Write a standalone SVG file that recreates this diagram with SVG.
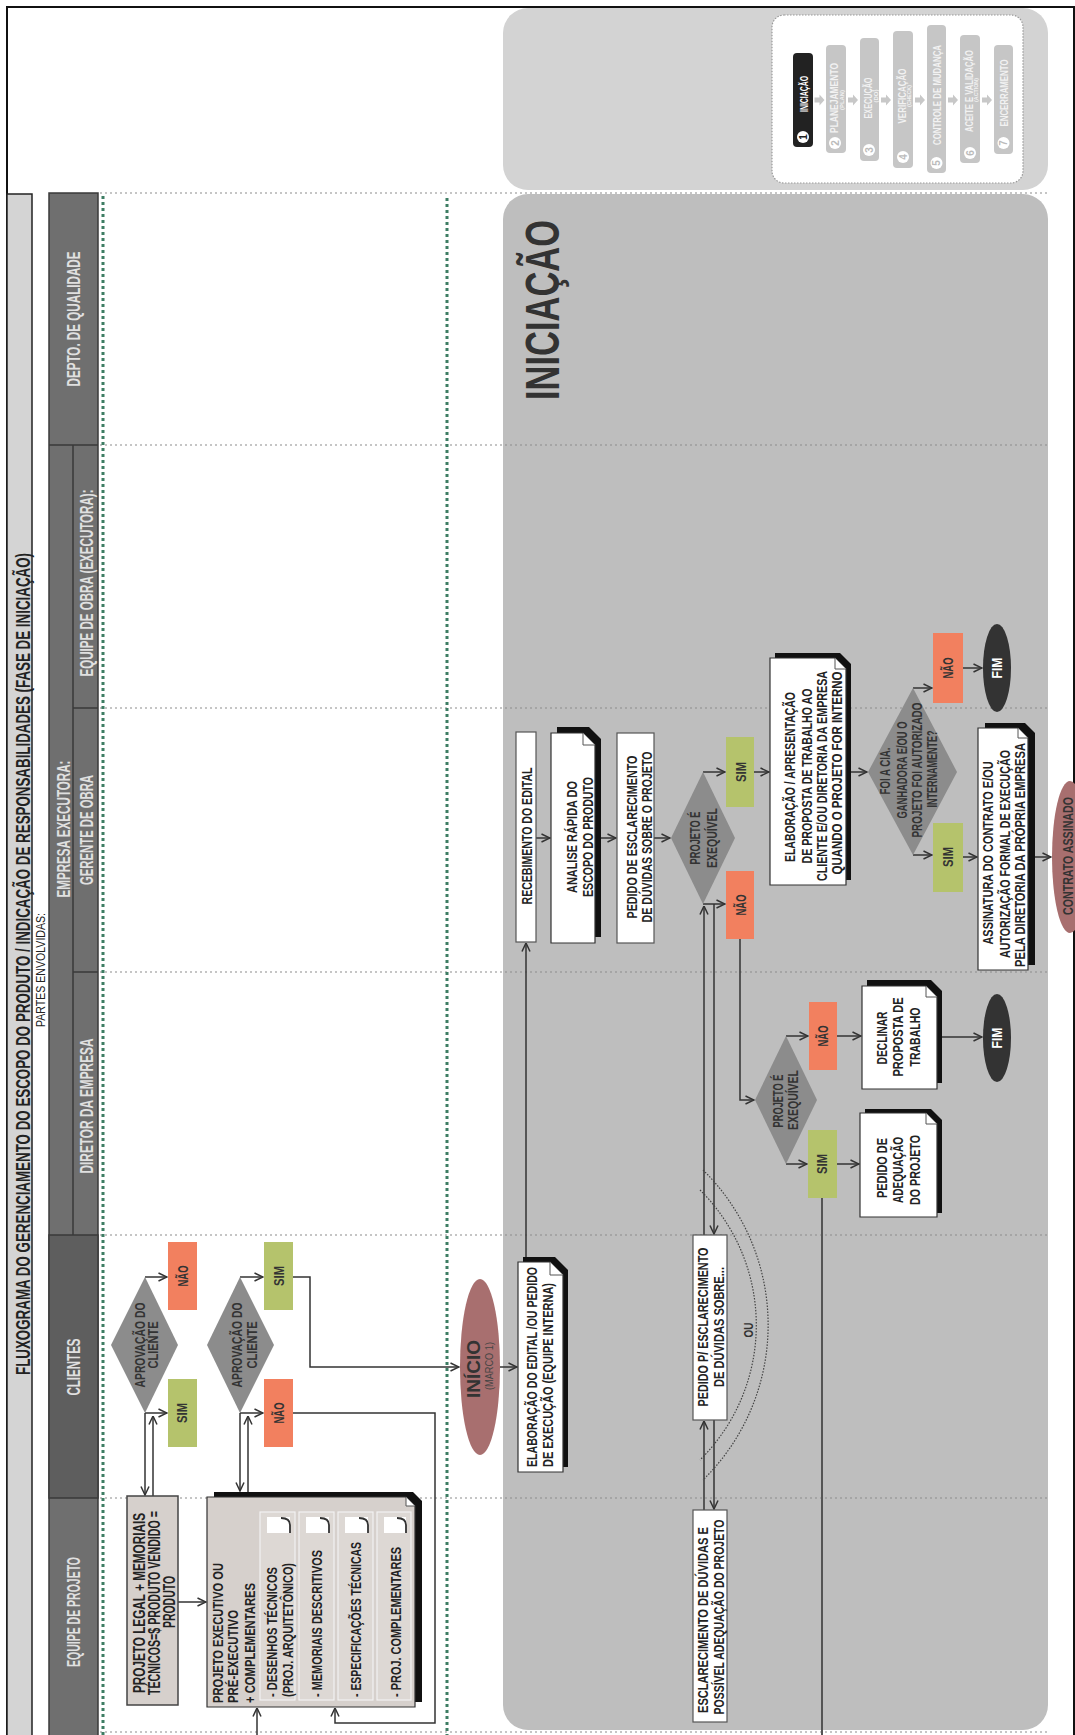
<svg xmlns="http://www.w3.org/2000/svg" width="1075" height="1735" viewBox="0 0 1075 1735">
<defs>
<style>
.f{font-family:"Liberation Sans Narrow","Liberation Sans",Arial,sans-serif;font-weight:bold;text-anchor:middle;fill:#222}
.st{text-anchor:start}
.hd{fill:#e0e0e0;font-size:18px}
.s13{font-size:14px}
.s14{font-size:15px}
.s15{font-size:16px}
.dk{fill:#333}
.lane{stroke:#8c8c8c;stroke-width:1.2;stroke-dasharray:2 3;fill:none}
.grn{stroke:#3d7d63;stroke-width:3;stroke-dasharray:3 3;fill:none}
.box{fill:#fff;stroke:#555;stroke-width:1.2}
.doc{fill:#fff;stroke:#333;stroke-width:1.2}
.sh{fill:#111}
.fold{fill:#fff;stroke:#555;stroke-width:1}
.dia{fill:#8c8c8c}
.sim{fill:#b5c36c}
.nao{fill:#f2805f}
.ell{fill:#a86f6f}
.fim{fill:#333}
.c{fill:none;stroke:#333;stroke-width:1.5}
.pill{fill:#c6c6c6}
.pt{fill:#f2f2f2;font-size:10px}
.sub{fill:#ddd8d4;stroke:#f2f2f2;stroke-width:1.2}
.ico{fill:#fff}
.icl{fill:none;stroke:#333;stroke-width:1.8}
.arc{fill:none;stroke:#444;stroke-width:1.2;stroke-dasharray:1.5 1.5}
</style>
<marker id="ah" viewBox="0 0 10 10" refX="9.5" refY="5" markerWidth="10" markerHeight="10" markerUnits="userSpaceOnUse" orient="auto"><path d="M1,1 L9.5,5 L1,9" fill="none" stroke="#333" stroke-width="1.5"/></marker>
</defs>

<rect x="0" y="0" width="1075" height="1735" fill="#fff"/>

<g id="regions">
<rect x="503" y="8" width="545" height="182" rx="25" fill="#d3d3d3"/>
<rect x="503" y="194" width="545" height="1536" rx="25" fill="#bebebe"/>
</g>

<g id="legend">
<rect x="772" y="15" width="251" height="168" rx="12" fill="#fff" stroke="#999" stroke-width="1.2" stroke-dasharray="1.5 1.5"/>
<rect x="793" y="53" width="20" height="94" rx="4" fill="#222"/>
<circle cx="803" cy="137" r="6" fill="#fff"/>
<text class="f" style="font-size:10px" transform="translate(806.5,137) rotate(-90)">1</text>
<text class="f" style="font-size:11px;fill:#fff" transform="translate(807.5,94) rotate(-90)" textLength="36" lengthAdjust="spacingAndGlyphs">INICIAÇÃO</text>

<rect class="pill" x="826" y="45" width="20" height="108" rx="4"/>
<circle cx="835" cy="143" r="6" fill="#fff"/>
<text class="f" style="font-size:10px;fill:#bbb" transform="translate(838.5,143) rotate(-90)">2</text>
<text class="f pt" transform="translate(838,98) rotate(-90)" textLength="70" lengthAdjust="spacingAndGlyphs">PLANEJAMENTO</text>
<text class="f pt" style="font-size:6px" transform="translate(844,100) rotate(-90)" textLength="20" lengthAdjust="spacingAndGlyphs">(PLAN)</text>

<rect class="pill" x="860" y="38" width="19" height="123" rx="4"/>
<circle cx="869" cy="150" r="6" fill="#fff"/>
<text class="f" style="font-size:10px;fill:#bbb" transform="translate(872.5,150) rotate(-90)">3</text>
<text class="f pt" transform="translate(872,98) rotate(-90)" textLength="41" lengthAdjust="spacingAndGlyphs">EXECUÇÃO</text>
<text class="f pt" style="font-size:6px" transform="translate(877.5,96) rotate(-90)" textLength="13" lengthAdjust="spacingAndGlyphs">(DO)</text>

<rect class="pill" x="893" y="31" width="20" height="137" rx="4"/>
<circle cx="903" cy="157" r="6" fill="#fff"/>
<text class="f" style="font-size:10px;fill:#bbb" transform="translate(906.5,157) rotate(-90)">4</text>
<text class="f pt" transform="translate(906,96) rotate(-90)" textLength="55" lengthAdjust="spacingAndGlyphs">VERIFICAÇÃO</text>
<text class="f pt" style="font-size:6px" transform="translate(911,96) rotate(-90)" textLength="22" lengthAdjust="spacingAndGlyphs">(CHECK)</text>

<rect class="pill" x="927" y="25" width="19" height="148" rx="4"/>
<circle cx="936.5" cy="163" r="6" fill="#fff"/>
<text class="f" style="font-size:10px;fill:#bbb" transform="translate(940,163) rotate(-90)">5</text>
<text class="f pt" transform="translate(941,95) rotate(-90)" textLength="100" lengthAdjust="spacingAndGlyphs">CONTROLE DE MUDANÇA</text>

<rect class="pill" x="960" y="35" width="20" height="128" rx="4"/>
<circle cx="970" cy="153" r="6" fill="#fff"/>
<text class="f" style="font-size:10px;fill:#bbb" transform="translate(973.5,153) rotate(-90)">6</text>
<text class="f pt" transform="translate(973,91) rotate(-90)" textLength="82" lengthAdjust="spacingAndGlyphs">ACEITE E VALIDAÇÃO</text>
<text class="f pt" style="font-size:6px" transform="translate(978,90) rotate(-90)" textLength="24" lengthAdjust="spacingAndGlyphs">(ACTION)</text>

<rect class="pill" x="994" y="45" width="19" height="109" rx="4"/>
<circle cx="1003.5" cy="143" r="6" fill="#fff"/>
<text class="f" style="font-size:10px;fill:#bbb" transform="translate(1007,143) rotate(-90)">7</text>
<text class="f pt" transform="translate(1008,93) rotate(-90)" textLength="67" lengthAdjust="spacingAndGlyphs">ENCERRAMENTO</text>

<g fill="#c8c8c8">
<polygon points="814.5,97.5 819.5,97.5 819.5,94.5 824.5,100 819.5,105.5 819.5,102.5 814.5,102.5"/>
<polygon points="848,97.5 853,97.5 853,94.5 858,100 853,105.5 853,102.5 848,102.5"/>
<polygon points="881,97.5 886,97.5 886,94.5 891,100 886,105.5 886,102.5 881,102.5"/>
<polygon points="915,97.5 920,97.5 920,94.5 925,100 920,105.5 920,102.5 915,102.5"/>
<polygon points="948,97.5 953,97.5 953,94.5 958,100 953,105.5 953,102.5 948,102.5"/>
<polygon points="982,97.5 987,97.5 987,94.5 992,100 987,105.5 987,102.5 982,102.5"/>
</g>
</g>

<g id="lanes">
<path class="lane" d="M100,193 H1050 M100,445 H1050 M100,708 H1050 M100,972 H1050 M100,1235 H1050 M100,1498 H1050 M100,1732 H1050"/>
<path class="grn" d="M103,196 V1735 M447,198 V1735"/>
</g>

<g id="frame">
<rect x="7" y="7" width="1067" height="1740" fill="none" stroke="#111" stroke-width="2"/>
<rect x="7" y="194" width="25" height="1550" fill="#d4d4d4" stroke="#222" stroke-width="1.5"/>
<text class="f" style="font-size:21px" transform="translate(30,964) rotate(-90)" textLength="822" lengthAdjust="spacingAndGlyphs">FLUXOGRAMA DO GERENCIAMENTO DO ESCOPO DO PRODUTO / INDICAÇÃO DE RESPONSABILIDADES (FASE DE INICIAÇÃO)</text>
<text class="f" style="font-size:13px;font-weight:normal" transform="translate(45,970) rotate(-90)" textLength="114" lengthAdjust="spacingAndGlyphs">PARTES ENVOLVIDAS:</text>
</g>

<g id="header">
<rect x="49" y="193" width="49" height="1550" fill="#6f6f6f" stroke="#3a3a3a" stroke-width="1.5"/>
<rect x="49" y="1235" width="49" height="263" fill="#5e5e5e" stroke="#3a3a3a" stroke-width="1.5"/>
<path d="M49,445 H98 M73,445 V1235 M73,708 H98 M73,972 H98" fill="none" stroke="#3a3a3a" stroke-width="1.5"/>
<text class="f hd" transform="translate(80,319) rotate(-90)" textLength="135" lengthAdjust="spacingAndGlyphs">DEPTO. DE QUALIDADE</text>
<text class="f hd" transform="translate(70,829) rotate(-90)" textLength="137" lengthAdjust="spacingAndGlyphs">EMPRESA EXECUTORA:</text>
<text class="f hd" transform="translate(93,583) rotate(-90)" textLength="187" lengthAdjust="spacingAndGlyphs">EQUIPE DE OBRA (EXECUTORA):</text>
<text class="f hd" transform="translate(93,830) rotate(-90)" textLength="110" lengthAdjust="spacingAndGlyphs">GERENTE DE OBRA</text>
<text class="f hd" transform="translate(93,1106) rotate(-90)" textLength="135" lengthAdjust="spacingAndGlyphs">DIRETOR DA EMPRESA</text>
<text class="f hd" transform="translate(80,1367) rotate(-90)" textLength="57" lengthAdjust="spacingAndGlyphs">CLIENTES</text>
<text class="f hd" transform="translate(80,1612) rotate(-90)" textLength="110" lengthAdjust="spacingAndGlyphs">EQUIPE DE PROJETO</text>
</g>

<text class="f dk" style="font-size:48px" transform="translate(559,310) rotate(-90)" textLength="180" lengthAdjust="spacingAndGlyphs">INICIAÇÃO</text>

<g id="connectors">
<path class="c" d="M178,1602 H206" marker-end="url(#ah)"/>
<path class="c" d="M145,1277 H167" marker-end="url(#ah)"/>
<path class="c" d="M145,1413 H167" marker-end="url(#ah)"/>
<path class="c" d="M145,1413 V1495" marker-end="url(#ah)"/>
<path class="c" d="M153,1496 V1416" marker-end="url(#ah)"/>
<path class="c" d="M240,1277 H263" marker-end="url(#ah)"/>
<path class="c" d="M240,1413 H263" marker-end="url(#ah)"/>
<path class="c" d="M240,1413 V1491" marker-end="url(#ah)"/>
<path class="c" d="M248,1492 V1416" marker-end="url(#ah)"/>
<path class="c" d="M293,1277 H310 V1367 H459" marker-end="url(#ah)"/>
<path class="c" d="M293,1413 H435 V1723 H335 V1708" marker-end="url(#ah)"/>
<path class="c" d="M257,1740 V1708" marker-end="url(#ah)"/>
<path class="c" d="M500,1367 H517" marker-end="url(#ah)"/>
<path class="c" d="M526,1257 V943" marker-end="url(#ah)"/>
<path class="c" d="M536,838 H550" marker-end="url(#ah)"/>
<path class="c" d="M601,838 H616" marker-end="url(#ah)"/>
<path class="c" d="M654,838 H670" marker-end="url(#ah)"/>
<path class="c" d="M703,772 H725" marker-end="url(#ah)"/>
<path class="c" d="M754,772 H769" marker-end="url(#ah)"/>
<path class="c" d="M851,772 H867" marker-end="url(#ah)"/>
<path class="c" d="M703,904 H725" marker-end="url(#ah)"/>
<path class="c" d="M740,939 V1100 H754" marker-end="url(#ah)"/>
<path class="c" d="M786,1036 H808" marker-end="url(#ah)"/>
<path class="c" d="M837,1036 H861" marker-end="url(#ah)"/>
<path class="c" d="M942,1037 H982" marker-end="url(#ah)"/>
<path class="c" d="M786,1164 H807" marker-end="url(#ah)"/>
<path class="c" d="M837,1164 H859" marker-end="url(#ah)"/>
<path d="M822,1198 V1740" fill="none" stroke="#555" stroke-width="2"/>
<path class="c" d="M913,688 H932" marker-end="url(#ah)"/>
<path class="c" d="M963,668 H982" marker-end="url(#ah)"/>
<path class="c" d="M913,855 H932" marker-end="url(#ah)"/>
<path class="c" d="M963,857 H977" marker-end="url(#ah)"/>
<path class="c" d="M1035,857 H1051" marker-end="url(#ah)"/>
<path class="c" d="M704,1235 V906" marker-end="url(#ah)"/>
<path class="c" d="M714,904 V1234" marker-end="url(#ah)"/>
<path class="c" d="M704,1510 V1421" marker-end="url(#ah)"/>
<path class="c" d="M714,1420 V1509" marker-end="url(#ah)"/>
<path class="arc" d="M703,1170 A217,217 0 0 1 703,1480"/>
<path class="arc" d="M700,1190 A190,190 0 0 1 700,1460"/>
<text class="f dk" style="font-size:13px" transform="translate(753,1330) rotate(-90)" textLength="15" lengthAdjust="spacingAndGlyphs">OU</text>
</g>

<g id="n-projeto-legal">
<rect x="127" y="1496" width="51" height="209" fill="#d6d0cc" stroke="#444" stroke-width="1.5"/>
<text class="f s15" transform="translate(145,1603) rotate(-90)" textLength="180" lengthAdjust="spacingAndGlyphs">PROJETO LEGAL + MEMORIAIS</text>
<text class="f s15" transform="translate(160,1603) rotate(-90)" textLength="184" lengthAdjust="spacingAndGlyphs">TÉCNICOS=$ PRODUTO VENDIDO =</text>
<text class="f s15" transform="translate(175,1602) rotate(-90)" textLength="52" lengthAdjust="spacingAndGlyphs">PRODUTO</text>
</g>

<g id="n-projeto-executivo">
<path class="sh" transform="translate(7,-5)" d="M207,1497 H406 L415,1506 V1707 H207 Z"/>
<path d="M207,1497 H406 L415,1506 V1707 H207 Z" fill="#d6d0cc" stroke="#333" stroke-width="1.2"/>
<path class="fold" d="M406,1497 V1506 H415"/>
<text class="f s14 st" transform="translate(223,1703) rotate(-90)" textLength="140" lengthAdjust="spacingAndGlyphs">PROJETO EXECUTIVO OU</text>
<text class="f s14 st" transform="translate(238,1703) rotate(-90)" textLength="93" lengthAdjust="spacingAndGlyphs">PRÉ-EXECUTIVO</text>
<text class="f s14 st" transform="translate(255,1703) rotate(-90)" textLength="120" lengthAdjust="spacingAndGlyphs">+ COMPLEMENTARES</text>
<rect class="sub" x="260" y="1512" width="35" height="188"/>
<rect class="sub" x="299" y="1512" width="35" height="188"/>
<rect class="sub" x="338" y="1512" width="35" height="188"/>
<rect class="sub" x="377" y="1512" width="34" height="188"/>
<rect class="ico" x="267" y="1517" width="23" height="16"/>
<path class="icl" d="M281,1518 Q290,1518 290,1525 V1533"/>
<rect class="ico" x="306" y="1517" width="23" height="16"/>
<path class="icl" d="M320,1518 Q329,1518 329,1525 V1533"/>
<rect class="ico" x="345" y="1517" width="23" height="16"/>
<path class="icl" d="M359,1518 Q368,1518 368,1525 V1533"/>
<rect class="ico" x="384" y="1517" width="22" height="16"/>
<path class="icl" d="M397,1518 Q406,1518 406,1525 V1533"/>
<text class="f s13 st" transform="translate(277,1697) rotate(-90)" textLength="130" lengthAdjust="spacingAndGlyphs">- DESENHOS TÉCNICOS</text>
<text class="f s13 st" transform="translate(293,1697) rotate(-90)" textLength="134" lengthAdjust="spacingAndGlyphs">(PROJ. ARQUITETÔNICO)</text>
<text class="f s13 st" transform="translate(322,1697) rotate(-90)" textLength="147" lengthAdjust="spacingAndGlyphs">- MEMORIAIS DESCRITIVOS</text>
<text class="f s13 st" transform="translate(361,1697) rotate(-90)" textLength="155" lengthAdjust="spacingAndGlyphs">- ESPECIFICAÇÕES TÉCNICAS</text>
<text class="f s13 st" transform="translate(401,1697) rotate(-90)" textLength="150" lengthAdjust="spacingAndGlyphs">- PROJ. COMPLEMENTARES</text>
</g>

<g id="n-aprovacao-1">
<polygon class="dia" points="145,1277 178,1345 145,1413 111,1345"/>
<text class="f s13 dk" transform="translate(145,1345) rotate(-90)" textLength="85" lengthAdjust="spacingAndGlyphs">APROVAÇÃO DO</text>
<text class="f s13 dk" transform="translate(158,1345) rotate(-90)" textLength="47" lengthAdjust="spacingAndGlyphs">CLIENTE</text>
</g>
<g id="n-nao-1"><rect class="nao" x="168" y="1242" width="29" height="68"/><text class="f s14 dk" transform="translate(188,1276) rotate(-90)" textLength="21" lengthAdjust="spacingAndGlyphs">NÃO</text></g>
<g id="n-sim-1"><rect class="sim" x="168" y="1379" width="29" height="68"/><text class="f s14 dk" transform="translate(187,1413) rotate(-90)" textLength="20" lengthAdjust="spacingAndGlyphs">SIM</text></g>

<g id="n-aprovacao-2">
<polygon class="dia" points="240,1277 274,1345 240,1413 207,1345"/>
<text class="f s13 dk" transform="translate(242,1345) rotate(-90)" textLength="85" lengthAdjust="spacingAndGlyphs">APROVAÇÃO DO</text>
<text class="f s13 dk" transform="translate(257,1345) rotate(-90)" textLength="47" lengthAdjust="spacingAndGlyphs">CLIENTE</text>
</g>
<g id="n-sim-2"><rect class="sim" x="264" y="1242" width="29" height="68"/><text class="f s14 dk" transform="translate(284,1276) rotate(-90)" textLength="20" lengthAdjust="spacingAndGlyphs">SIM</text></g>
<g id="n-nao-2"><rect class="nao" x="264" y="1379" width="29" height="68"/><text class="f s14 dk" transform="translate(284,1413) rotate(-90)" textLength="21" lengthAdjust="spacingAndGlyphs">NÃO</text></g>

<g id="n-inicio">
<ellipse class="ell" cx="480" cy="1367" rx="20" ry="88"/>
<text class="f dk" style="font-size:19px" transform="translate(480,1369) rotate(-90)" textLength="58" lengthAdjust="spacingAndGlyphs">INÍCIO</text>
<text class="f" style="font-size:11px;font-weight:normal;fill:#444" transform="translate(493,1366) rotate(-90)" textLength="48" lengthAdjust="spacingAndGlyphs">(MARCO 1)</text>
</g>

<g id="n-elaboracao-edital">
<path class="sh" transform="translate(5,-5)" d="M518,1262 H550 L563,1275 V1472 H518 Z"/>
<path class="doc" d="M518,1262 H550 L563,1275 V1472 H518 Z"/>
<path class="fold" d="M550,1262 V1275 H563"/>
<text class="f s13 st" transform="translate(537,1467) rotate(-90)" textLength="200" lengthAdjust="spacingAndGlyphs">ELABORAÇÃO DO EDITAL /OU PEDIDO</text>
<text class="f s13 st" transform="translate(553,1467) rotate(-90)" textLength="184" lengthAdjust="spacingAndGlyphs">DE EXECUÇÃO (EQUIPE INTERNA)</text>
</g>

<g id="n-recebimento">
<rect class="box" x="516" y="732" width="20" height="210"/>
<text class="f s13" transform="translate(532,836) rotate(-90)" textLength="137" lengthAdjust="spacingAndGlyphs">RECEBIMENTO DO EDITAL</text>
</g>

<g id="n-analise">
<path class="sh" transform="translate(6,-6)" d="M551,733 H583 L595,745 V943 H551 Z"/>
<path class="doc" d="M551,733 H583 L595,745 V943 H551 Z"/>
<path class="fold" d="M583,733 V745 H595"/>
<text class="f s13" transform="translate(577,837) rotate(-90)" textLength="112" lengthAdjust="spacingAndGlyphs">ANALISE RÁPIDA DO</text>
<text class="f s13" transform="translate(593,837) rotate(-90)" textLength="120" lengthAdjust="spacingAndGlyphs">ESCOPO DO PRODUTO</text>
</g>

<g id="n-pedido-esclarecimento">
<rect class="box" x="617" y="733" width="37" height="210"/>
<text class="f s13" transform="translate(637,837) rotate(-90)" textLength="163" lengthAdjust="spacingAndGlyphs">PEDIDO DE ESCLARECIMENTO</text>
<text class="f s13" transform="translate(652,837) rotate(-90)" textLength="171" lengthAdjust="spacingAndGlyphs">DE DÚVIDAS SOBRE O PROJETO</text>
</g>

<g id="n-exequivel-1">
<polygon class="dia" points="703,772 735,838 703,904 671,838"/>
<text class="f s13 dk" transform="translate(700,838) rotate(-90)" textLength="53" lengthAdjust="spacingAndGlyphs">PROJETO É</text>
<text class="f s13 dk" transform="translate(717,838) rotate(-90)" textLength="60" lengthAdjust="spacingAndGlyphs">EXEQUÍVEL</text>
</g>
<g id="n-sim-3"><rect class="sim" x="726" y="737" width="28" height="70"/><text class="f s14 dk" transform="translate(746,772) rotate(-90)" textLength="20" lengthAdjust="spacingAndGlyphs">SIM</text></g>
<g id="n-nao-3"><rect class="nao" x="726" y="871" width="28" height="68"/><text class="f s14 dk" transform="translate(746,905) rotate(-90)" textLength="21" lengthAdjust="spacingAndGlyphs">NÃO</text></g>

<g id="n-proposta">
<path class="sh" transform="translate(5,-5)" d="M770,658 H835 L846,669 V885 H770 Z"/>
<path class="doc" d="M770,658 H835 L846,669 V885 H770 Z"/>
<path class="fold" d="M835,658 V669 H846"/>
<text class="f s14" transform="translate(795,777) rotate(-90)" textLength="170" lengthAdjust="spacingAndGlyphs">ELABORAÇÃO / APRESENTAÇÃO</text>
<text class="f s14" transform="translate(812,776) rotate(-90)" textLength="175" lengthAdjust="spacingAndGlyphs">DE PROPOSTA DE TRABALHO AO</text>
<text class="f s14" transform="translate(827,776) rotate(-90)" textLength="210" lengthAdjust="spacingAndGlyphs">CLIENTE E/OU DIRETORIA DA EMPRESA</text>
<text class="f s14" transform="translate(842,773) rotate(-90)" textLength="203" lengthAdjust="spacingAndGlyphs">QUANDO O PROJETO FOR INTERNO</text>
</g>

<g id="n-ganhadora">
<polygon class="dia" points="913,688 957,772 913,855 868,772"/>
<text class="f s13 dk" transform="translate(890,771) rotate(-90)" textLength="47" lengthAdjust="spacingAndGlyphs">FOI A CIA.</text>
<text class="f s13 dk" transform="translate(907,770) rotate(-90)" textLength="97" lengthAdjust="spacingAndGlyphs">GANHADORA E/OU O</text>
<text class="f s13 dk" transform="translate(922,770) rotate(-90)" textLength="135" lengthAdjust="spacingAndGlyphs">PROJETO FOI AUTORIZADO</text>
<text class="f s13 dk" transform="translate(937,769) rotate(-90)" textLength="77" lengthAdjust="spacingAndGlyphs">INTERNAMENTE?</text>
</g>
<g id="n-nao-5"><rect class="nao" x="933" y="633" width="30" height="70"/><text class="f s14 dk" transform="translate(953,668) rotate(-90)" textLength="21" lengthAdjust="spacingAndGlyphs">NÃO</text></g>
<g id="n-fim-1"><ellipse class="fim" cx="997" cy="668" rx="14" ry="44"/><text class="f s13" style="fill:#fff" transform="translate(1002,668) rotate(-90)" textLength="21" lengthAdjust="spacingAndGlyphs">FIM</text></g>
<g id="n-sim-5"><rect class="sim" x="933" y="823" width="30" height="69"/><text class="f s14 dk" transform="translate(953,857) rotate(-90)" textLength="20" lengthAdjust="spacingAndGlyphs">SIM</text></g>

<g id="n-assinatura">
<path class="sh" transform="translate(7,-5)" d="M978,728 H1018 L1028,738 V970 H978 Z"/>
<path class="doc" d="M978,728 H1018 L1028,738 V970 H978 Z"/>
<path class="fold" d="M1018,728 V738 H1028"/>
<text class="f s14" transform="translate(993,853) rotate(-90)" textLength="183" lengthAdjust="spacingAndGlyphs">ASSINATURA DO CONTRATO E/OU</text>
<text class="f s14" transform="translate(1010,854) rotate(-90)" textLength="208" lengthAdjust="spacingAndGlyphs">AUTORIZAÇÃO FORMAL DE EXECUÇÃO</text>
<text class="f s14" transform="translate(1025,855) rotate(-90)" textLength="224" lengthAdjust="spacingAndGlyphs">PELA DIRETORIA DA PRÓPRIA EMPRESA</text>
</g>

<g id="n-contrato">
<ellipse class="ell" cx="1070" cy="857" rx="18" ry="76"/>
<text class="f s14 dk" transform="translate(1073,856) rotate(-90)" textLength="118" lengthAdjust="spacingAndGlyphs">CONTRATO ASSINADO</text>
</g>

<g id="n-exequivel-2">
<polygon class="dia" points="786,1036 817,1100 786,1164 755,1100"/>
<text class="f s13 dk" transform="translate(783,1101) rotate(-90)" textLength="53" lengthAdjust="spacingAndGlyphs">PROJETO É</text>
<text class="f s13 dk" transform="translate(798,1100) rotate(-90)" textLength="60" lengthAdjust="spacingAndGlyphs">EXEQUÍVEL</text>
</g>
<g id="n-nao-4"><rect class="nao" x="809" y="1002" width="28" height="68"/><text class="f s14 dk" transform="translate(828,1036) rotate(-90)" textLength="21" lengthAdjust="spacingAndGlyphs">NÃO</text></g>
<g id="n-sim-4"><rect class="sim" x="808" y="1130" width="29" height="68"/><text class="f s14 dk" transform="translate(827,1164) rotate(-90)" textLength="20" lengthAdjust="spacingAndGlyphs">SIM</text></g>

<g id="n-declinar">
<path class="sh" transform="translate(5,-6)" d="M862,986 H926 L937,997 V1089 H862 Z"/>
<path class="doc" d="M862,986 H926 L937,997 V1089 H862 Z"/>
<path class="fold" d="M926,986 V997 H937"/>
<text class="f s14" transform="translate(887,1038) rotate(-90)" textLength="53" lengthAdjust="spacingAndGlyphs">DECLINAR</text>
<text class="f s14" transform="translate(903,1037) rotate(-90)" textLength="79" lengthAdjust="spacingAndGlyphs">PROPOSTA DE</text>
<text class="f s14" transform="translate(920,1037) rotate(-90)" textLength="59" lengthAdjust="spacingAndGlyphs">TRABALHO</text>
</g>
<g id="n-fim-2"><ellipse class="fim" cx="997" cy="1038" rx="14" ry="44"/><text class="f s13" style="fill:#fff" transform="translate(1002,1038) rotate(-90)" textLength="21" lengthAdjust="spacingAndGlyphs">FIM</text></g>

<g id="n-adequacao">
<path class="sh" transform="translate(5,-4)" d="M860,1113 H926 L937,1124 V1217 H860 Z"/>
<path class="doc" d="M860,1113 H926 L937,1124 V1217 H860 Z"/>
<path class="fold" d="M926,1113 V1124 H937"/>
<text class="f s14" transform="translate(887,1168) rotate(-90)" textLength="60" lengthAdjust="spacingAndGlyphs">PEDIDO DE</text>
<text class="f s14" transform="translate(903,1170) rotate(-90)" textLength="66" lengthAdjust="spacingAndGlyphs">ADEQUAÇÃO</text>
<text class="f s14" transform="translate(920,1170) rotate(-90)" textLength="70" lengthAdjust="spacingAndGlyphs">DO PROJETO</text>
</g>

<g id="n-pedido-duvidas">
<rect class="box" x="693" y="1235" width="34" height="185"/>
<text class="f s13" transform="translate(708,1327) rotate(-90)" textLength="159" lengthAdjust="spacingAndGlyphs">PEDIDO P/ ESCLARECIMENTO</text>
<text class="f s13" transform="translate(724,1327) rotate(-90)" textLength="120" lengthAdjust="spacingAndGlyphs">DE DÚVIDAS SOBRE...</text>
</g>

<g id="n-esclarecimento">
<rect class="box" x="693" y="1510" width="34" height="212"/>
<text class="f s13" transform="translate(708,1620) rotate(-90)" textLength="186" lengthAdjust="spacingAndGlyphs">ESCLARECIMENTO DE DÚVIDAS E</text>
<text class="f s13" transform="translate(724,1617) rotate(-90)" textLength="195" lengthAdjust="spacingAndGlyphs">POSSÍVEL ADEQUAÇÃO DO PROJETO</text>
</g>
</svg>
